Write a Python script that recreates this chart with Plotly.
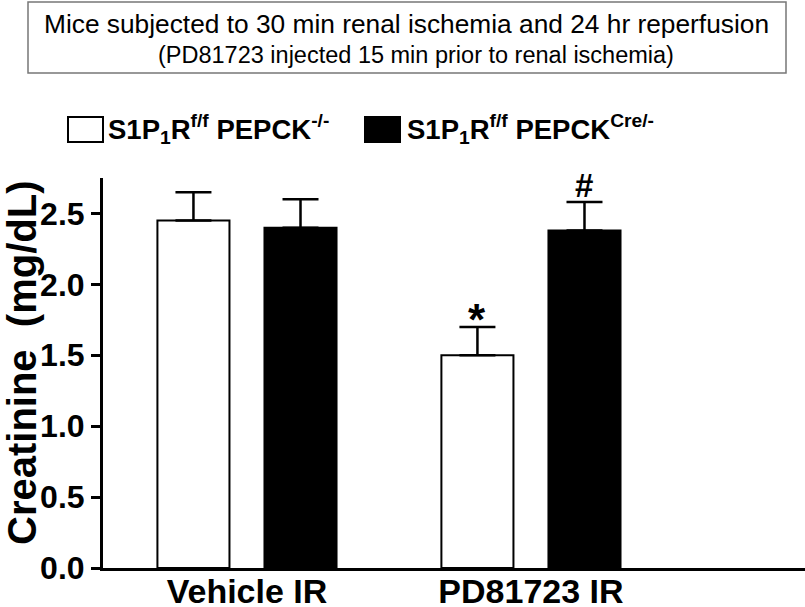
import plotly.graph_objects as go

categories = ["Vehicle IR", "PD81723 IR"]
ctrl_vals = [2.45, 1.50]
ctrl_err = [0.20, 0.20]
cre_vals = [2.40, 2.38]
cre_err = [0.20, 0.20]
marks_ctrl = ["", "*"]
marks_cre = ["", "#"]
y_ticks = [0.0, 0.5, 1.0, 1.5, 2.0, 2.5]
y_tick_labels = ["0.0", "0.5", "1.0", "1.5", "2.0", "2.5"]

W, H = 805, 607
L, R, T, B = 103, 0, 178, 39
pw, ph = W - L - R, H - T - B

def px(x):
    return (x - L) / pw

def py(y):
    return (H - B - y) / ph

FONT = "Liberation Sans, Arial, sans-serif"

fig = go.Figure()
fig.add_trace(go.Bar(
    x=categories, y=ctrl_vals, name="ctrl",
    marker=dict(color="white", line=dict(color="black", width=2)),
    error_y=dict(type="data", array=ctrl_err, arrayminus=[0] * len(ctrl_err),
                 symmetric=False, color="black", thickness=2.5, width=18),
))
fig.add_trace(go.Bar(
    x=categories, y=cre_vals, name="cre",
    marker=dict(color="black", line=dict(color="black", width=2)),
    error_y=dict(type="data", array=cre_err, arrayminus=[0] * len(cre_err),
                 symmetric=False, color="black", thickness=2.5, width=18),
))

annotations = []
for i, c in enumerate(categories):
    if marks_ctrl[i]:
        annotations.append(dict(x=c, y=ctrl_vals[i] + ctrl_err[i], xref="x", yref="y",
                                text=marks_ctrl[i], showarrow=False, xshift=-53.5, yshift=-19,
                                xanchor="center", yanchor="bottom",
                                font=dict(family=FONT, size=44, color="black", weight="bold")))
    if marks_cre[i]:
        annotations.append(dict(x=c, y=cre_vals[i] + cre_err[i], xref="x", yref="y",
                                text=marks_cre[i], showarrow=False, xshift=53.5, yshift=-4,
                                xanchor="center", yanchor="bottom",
                                font=dict(family=FONT, size=33, color="black", weight="bold")))

# title box text
annotations.append(dict(x=px(406), y=py(24), xref="paper", yref="paper", showarrow=False,
                        xanchor="center", yanchor="middle",
                        text="Mice subjected to 30 min renal ischemia and 24 hr reperfusion",
                        font=dict(family=FONT, size=26.3, color="black")))
annotations.append(dict(x=px(416), y=py(55), xref="paper", yref="paper", showarrow=False,
                        xanchor="center", yanchor="middle",
                        text="(PD81723 injected 15 min prior to renal ischemia)",
                        font=dict(family=FONT, size=23.5, color="black")))
# legend text
annotations.append(dict(x=px(106), y=py(129), xref="paper", yref="paper", showarrow=False,
                        xanchor="left", yanchor="middle",
                        text="S1P<sub>1</sub>R<sup>f/f</sup> PEPCK<sup>-/-</sup>",
                        font=dict(family=FONT, size=27.5, color="black", weight="bold")))
annotations.append(dict(x=px(405), y=py(129), xref="paper", yref="paper", showarrow=False,
                        xanchor="left", yanchor="middle",
                        text="S1P<sub>1</sub>R<sup>f/f</sup> PEPCK<sup>Cre/-</sup>",
                        font=dict(family=FONT, size=27.5, color="black", weight="bold")))
# y-axis title
annotations.append(dict(x=px(22), y=py(363), xref="paper", yref="paper", showarrow=False,
                        xanchor="center", yanchor="middle",
                        text="Creatinine  (mg/dL)", textangle=-90,
                        font=dict(family=FONT, size=40, color="black", weight="bold")))

shapes = [
    dict(type="rect", xref="paper", yref="paper", x0=px(28), x1=px(786), y0=py(73), y1=py(2),
         line=dict(color="#777777", width=1.5), fillcolor="rgba(0,0,0,0)"),
    dict(type="rect", xref="paper", yref="paper", x0=px(68), x1=px(103), y0=py(142), y1=py(117),
         line=dict(color="black", width=2), fillcolor="white"),
    dict(type="rect", xref="paper", yref="paper", x0=px(365), x1=px(400), y0=py(142), y1=py(117),
         line=dict(color="black", width=2), fillcolor="black"),
]

fig.update_layout(
    width=W, height=H,
    margin=dict(l=L, r=R, t=T, b=B, pad=0, autoexpand=False),
    paper_bgcolor="white", plot_bgcolor="white",
    barmode="group", bargap=0.246, bargroupgap=0.327,
    showlegend=False,
    annotations=annotations, shapes=shapes,
    xaxis=dict(range=[-0.507, 1.965], showline=True, linecolor="black", linewidth=3,
               ticks="", showgrid=False, zeroline=False, automargin=False,
               ticklabelstandoff=-9,
               tickfont=dict(family=FONT, size=34, color="black", weight="bold")),
    yaxis=dict(range=[0, 2.75], showline=True, linecolor="black", linewidth=3,
               ticks="outside", ticklen=9, tickwidth=3, tickcolor="black", automargin=False,
               tickvals=y_ticks, ticktext=y_tick_labels, showgrid=False, zeroline=False,
               tickfont=dict(family=FONT, size=32, color="black", weight="bold")),
)

fig.write_html("out.html", config={"displayModeBar": False},
               post_script="document.body.style.margin='0';")
